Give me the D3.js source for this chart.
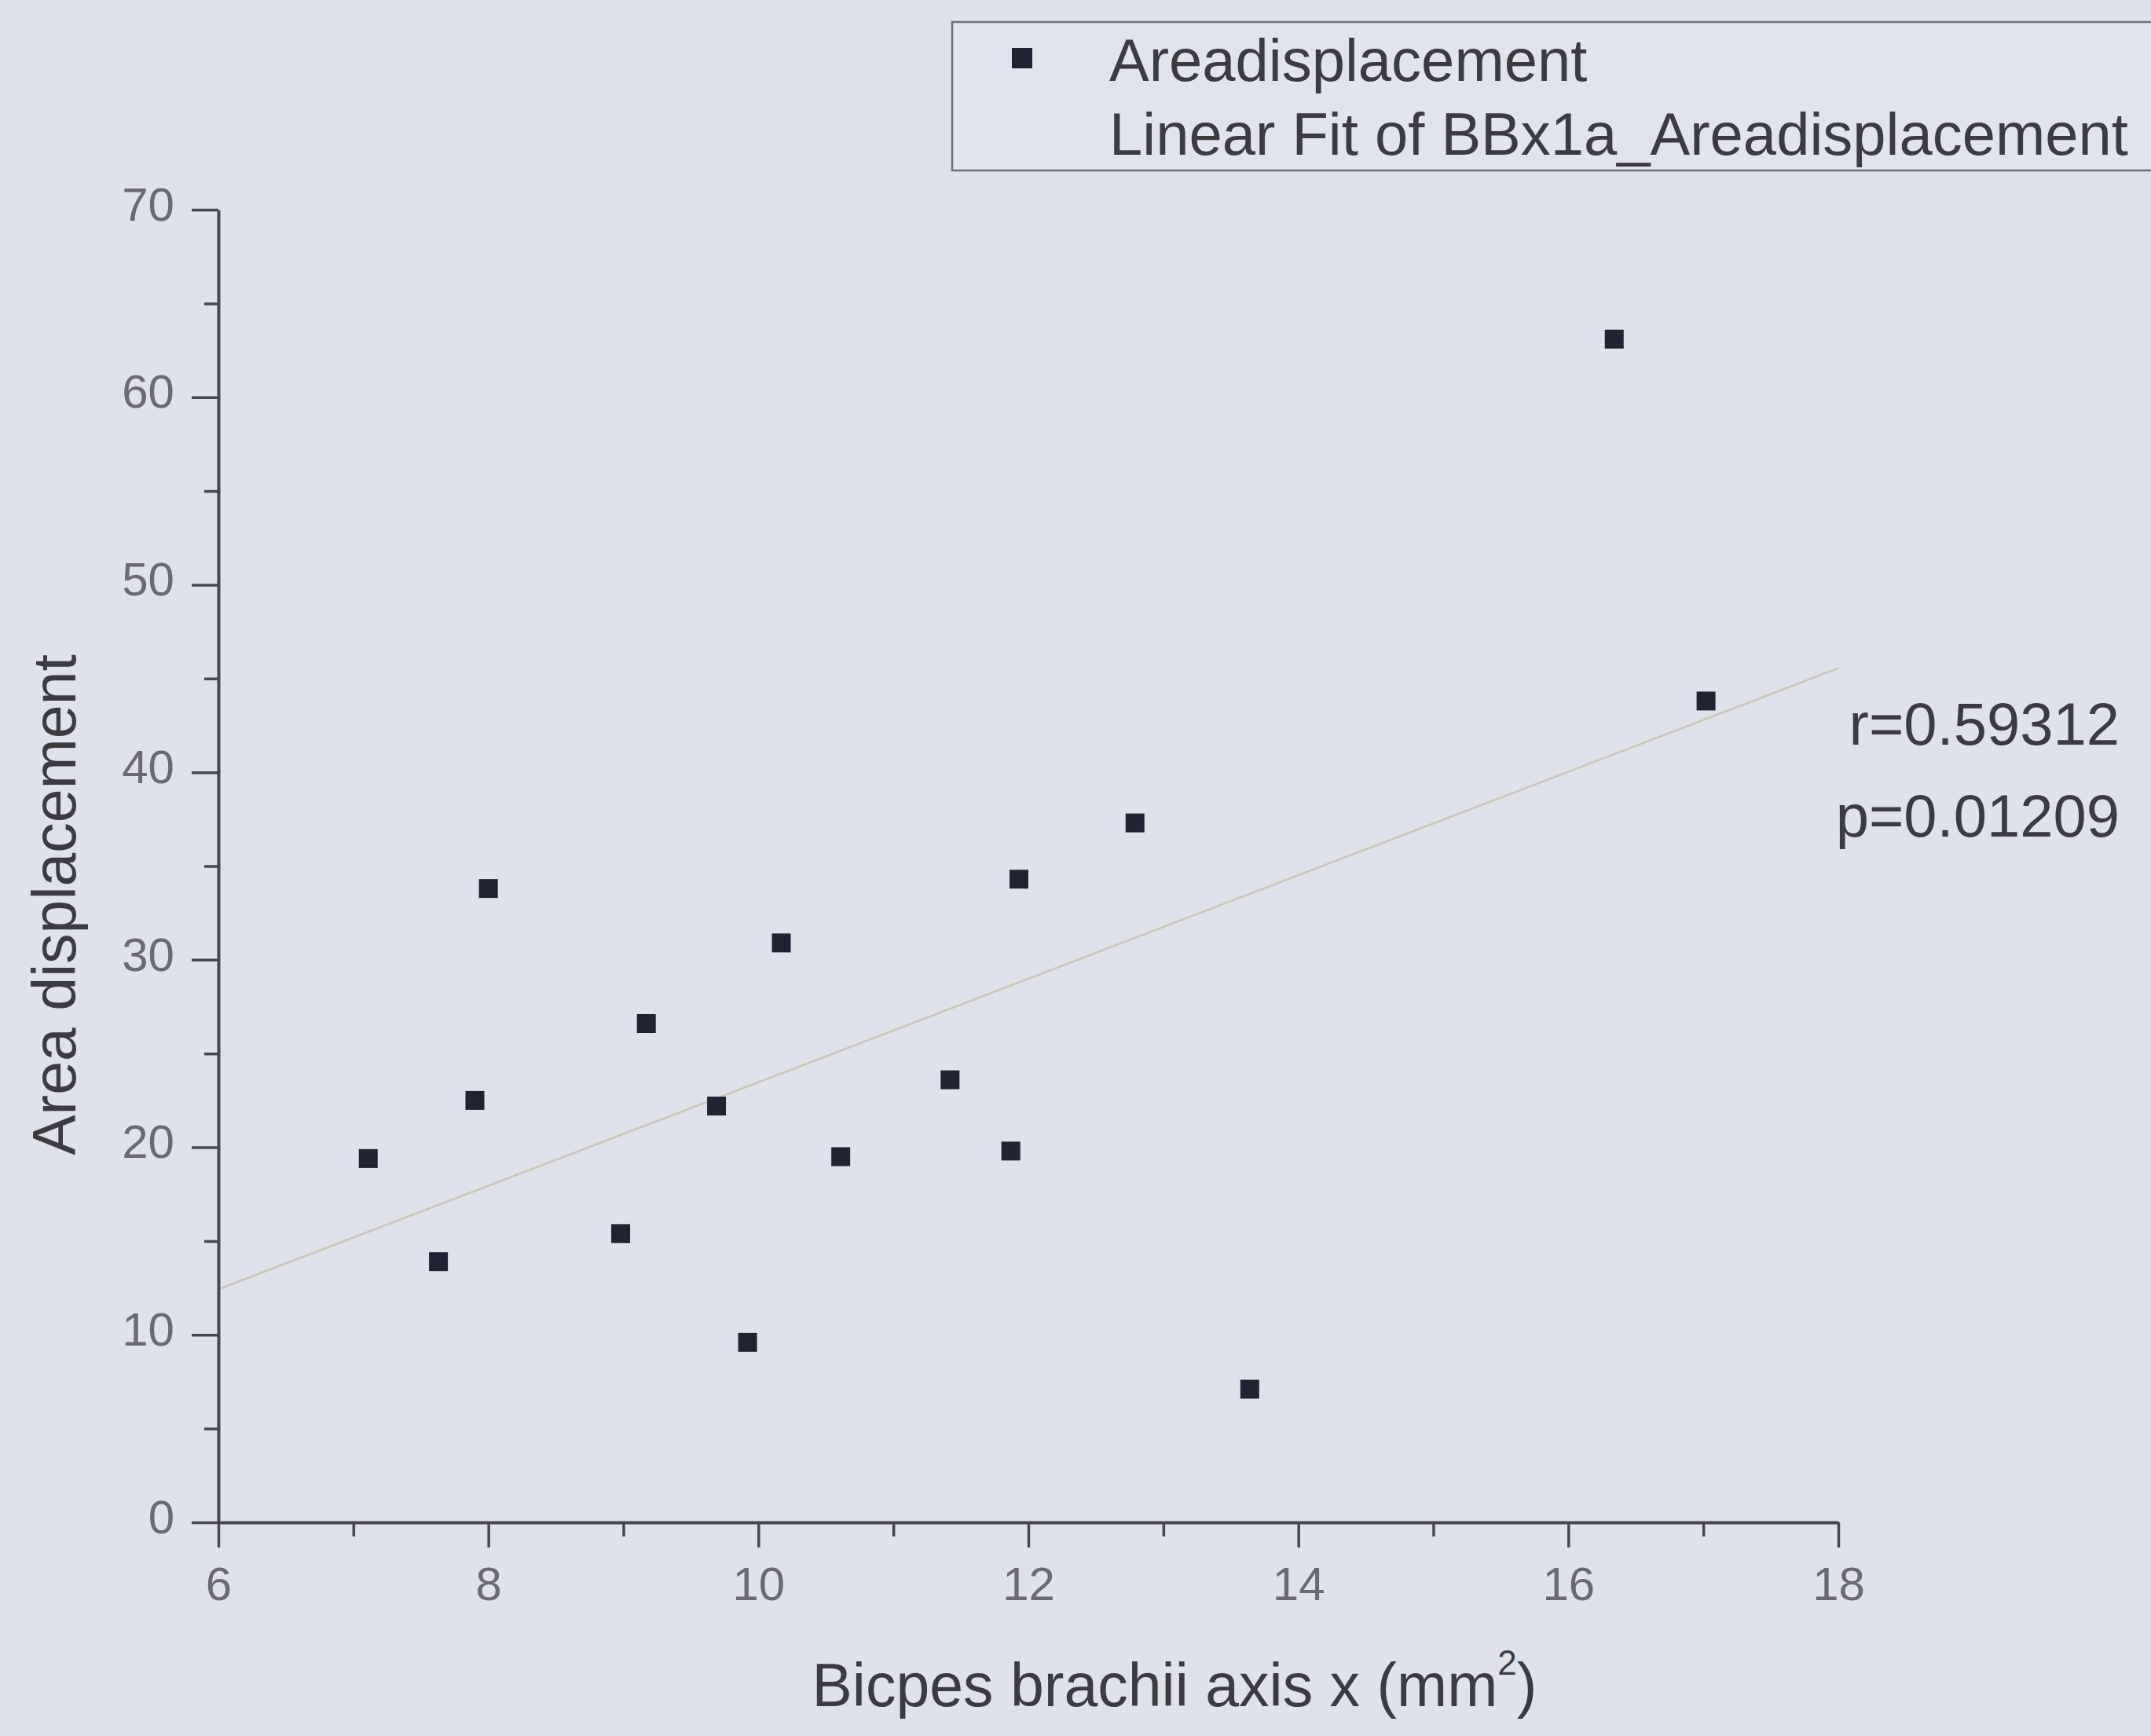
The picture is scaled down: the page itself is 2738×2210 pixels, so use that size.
<!DOCTYPE html>
<html>
<head>
<meta charset="utf-8">
<script src="https://cdn.jsdelivr.net/npm/d3@7"></script>
<style>
  html, body { margin: 0; padding: 0; background: #dfe1eb; }
  svg { display: block; }
  text { font-family: "Liberation Sans", Arial, sans-serif; }
</style>
</head>
<body>
<svg id="chart" width="2738" height="2210"></svg>
<script>
// Bicep brachii cross-section (x) vs. area displacement, one square per subject
const bicepsAxisX = [7.11, 7.63, 7.90, 8.00, 8.98, 9.17, 9.69, 9.92, 10.17, 10.61, 11.42, 11.87, 11.93, 12.79, 13.64, 16.34, 17.02];
const areaDisplacement = [19.4, 13.9, 22.5, 33.8, 15.4, 26.6, 22.2, 9.6, 30.9, 19.5, 23.6, 19.8, 34.3, 37.3, 7.1, 63.1, 43.8];

// linear fit: areaDisplacement = fitIntercept + fitSlope * x, drawn over fitRange
const fitIntercept = -4.13;
const fitSlope = 2.76;
const fitRange = [6, 18];

const xTicks = [6, 8, 10, 12, 14, 16, 18];
const xMinorTicks = [7, 9, 11, 13, 15, 17];
const yTicks = [0, 10, 20, 30, 40, 50, 60, 70];
const yMinorTicks = [5, 15, 25, 35, 45, 55, 65];

const legendLabels = ["Areadisplacement", "Linear Fit of BBx1a_Areadisplacement"];
const statsLabels = ["r=0.59312", "p=0.01209"];

const svg = d3.select("#chart");

const x = d3.scaleLinear().domain([6, 18]).range([278, 2340]);
const y = d3.scaleLinear().domain([0, 70]).range([1938, 267]);

const axisColor = "#47474c";
const tickTextColor = "#6a6a70";
const textColor = "#3b3b40";
const fitColor = "#cbc8b9";

// fit line
svg.append("line")
  .attr("x1", x(fitRange[0])).attr("y1", y(fitIntercept + fitSlope * fitRange[0]))
  .attr("x2", x(fitRange[1])).attr("y2", y(fitIntercept + fitSlope * fitRange[1]))
  .attr("stroke", fitColor).attr("stroke-width", 2.5);

// axes
function styleAxis(g) {
  g.select(".domain").attr("stroke", axisColor).attr("stroke-width", 4);
  g.selectAll(".tick line").attr("stroke", axisColor).attr("stroke-width", 3.5);
}

const xAxisG = svg.append("g").attr("transform", `translate(0,${y(0)})`)
  .call(d3.axisBottom(x).tickValues(xTicks).tickSize(32).tickSizeOuter(0).tickPadding(24).tickFormat(d3.format("d")));
styleAxis(xAxisG);
xAxisG.selectAll(".tick text").attr("font-size", 60).attr("fill", tickTextColor)
  .attr("font-family", "Liberation Sans, Arial, sans-serif");

svg.append("g").attr("transform", `translate(0,${y(0)})`)
  .call(d3.axisBottom(x).tickValues(xMinorTicks).tickSize(18).tickFormat(""))
  .call(g => g.select(".domain").remove())
  .selectAll(".tick line").attr("stroke", axisColor).attr("stroke-width", 3.5);

const yAxisG = svg.append("g").attr("transform", `translate(${x(6)},0)`)
  .call(d3.axisLeft(y).tickValues(yTicks).tickSize(34).tickSizeOuter(0).tickPadding(22).tickFormat(d3.format("d")));
styleAxis(yAxisG);
yAxisG.selectAll(".tick text").attr("font-size", 60).attr("fill", tickTextColor)
  .attr("dy", "0.22em")
  .attr("font-family", "Liberation Sans, Arial, sans-serif");

svg.append("g").attr("transform", `translate(${x(6)},0)`)
  .call(d3.axisLeft(y).tickValues(yMinorTicks).tickSize(18).tickFormat(""))
  .call(g => g.select(".domain").remove())
  .selectAll(".tick line").attr("stroke", axisColor).attr("stroke-width", 3.5);

// data points
const ms = 24;
svg.append("g").selectAll("rect")
  .data(d3.zip(bicepsAxisX, areaDisplacement))
  .join("rect")
  .attr("x", d => x(d[0]) - ms / 2)
  .attr("y", d => y(d[1]) - ms / 2)
  .attr("width", ms).attr("height", ms)
  .attr("fill", "#1f2433");

// axis titles
const xTitle = svg.append("text")
  .attr("x", 1495).attr("y", 2172)
  .attr("text-anchor", "middle")
  .attr("font-size", 77).attr("fill", textColor);
xTitle.append("tspan").text("Bicpes brachii axis x (mm");
xTitle.append("tspan").text("2").attr("font-size", 44).attr("dy", -40);
xTitle.append("tspan").text(")").attr("dy", 40);

svg.append("text")
  .attr("transform", "translate(96,1152) rotate(-90)")
  .attr("text-anchor", "middle")
  .attr("font-size", 77).attr("fill", textColor)
  .text("Area displacement");

// statistics
svg.append("g").selectAll("text")
  .data(statsLabels)
  .join("text")
  .attr("x", 2698)
  .attr("y", (d, i) => 948 + i * 117)
  .attr("text-anchor", "end")
  .attr("font-size", 76).attr("fill", textColor)
  .text(d => d);

// legend
const legend = svg.append("g");
legend.append("rect")
  .attr("x", 1212).attr("y", 28).attr("width", 1600).attr("height", 189)
  .attr("fill", "#e1e3ed").attr("stroke", "#6f6f75").attr("stroke-width", 2.5);
legend.append("rect")
  .attr("x", 1301 - 13).attr("y", 74 - 13).attr("width", 26).attr("height", 26)
  .attr("fill", "#1f2433");
legend.selectAll("text.lg")
  .data(legendLabels)
  .join("text")
  .attr("class", "lg")
  .attr("x", 1412)
  .attr("y", (d, i) => 103 + i * 94)
  .attr("font-size", 76).attr("fill", textColor)
  .text(d => d);
</script>
</body>
</html>
